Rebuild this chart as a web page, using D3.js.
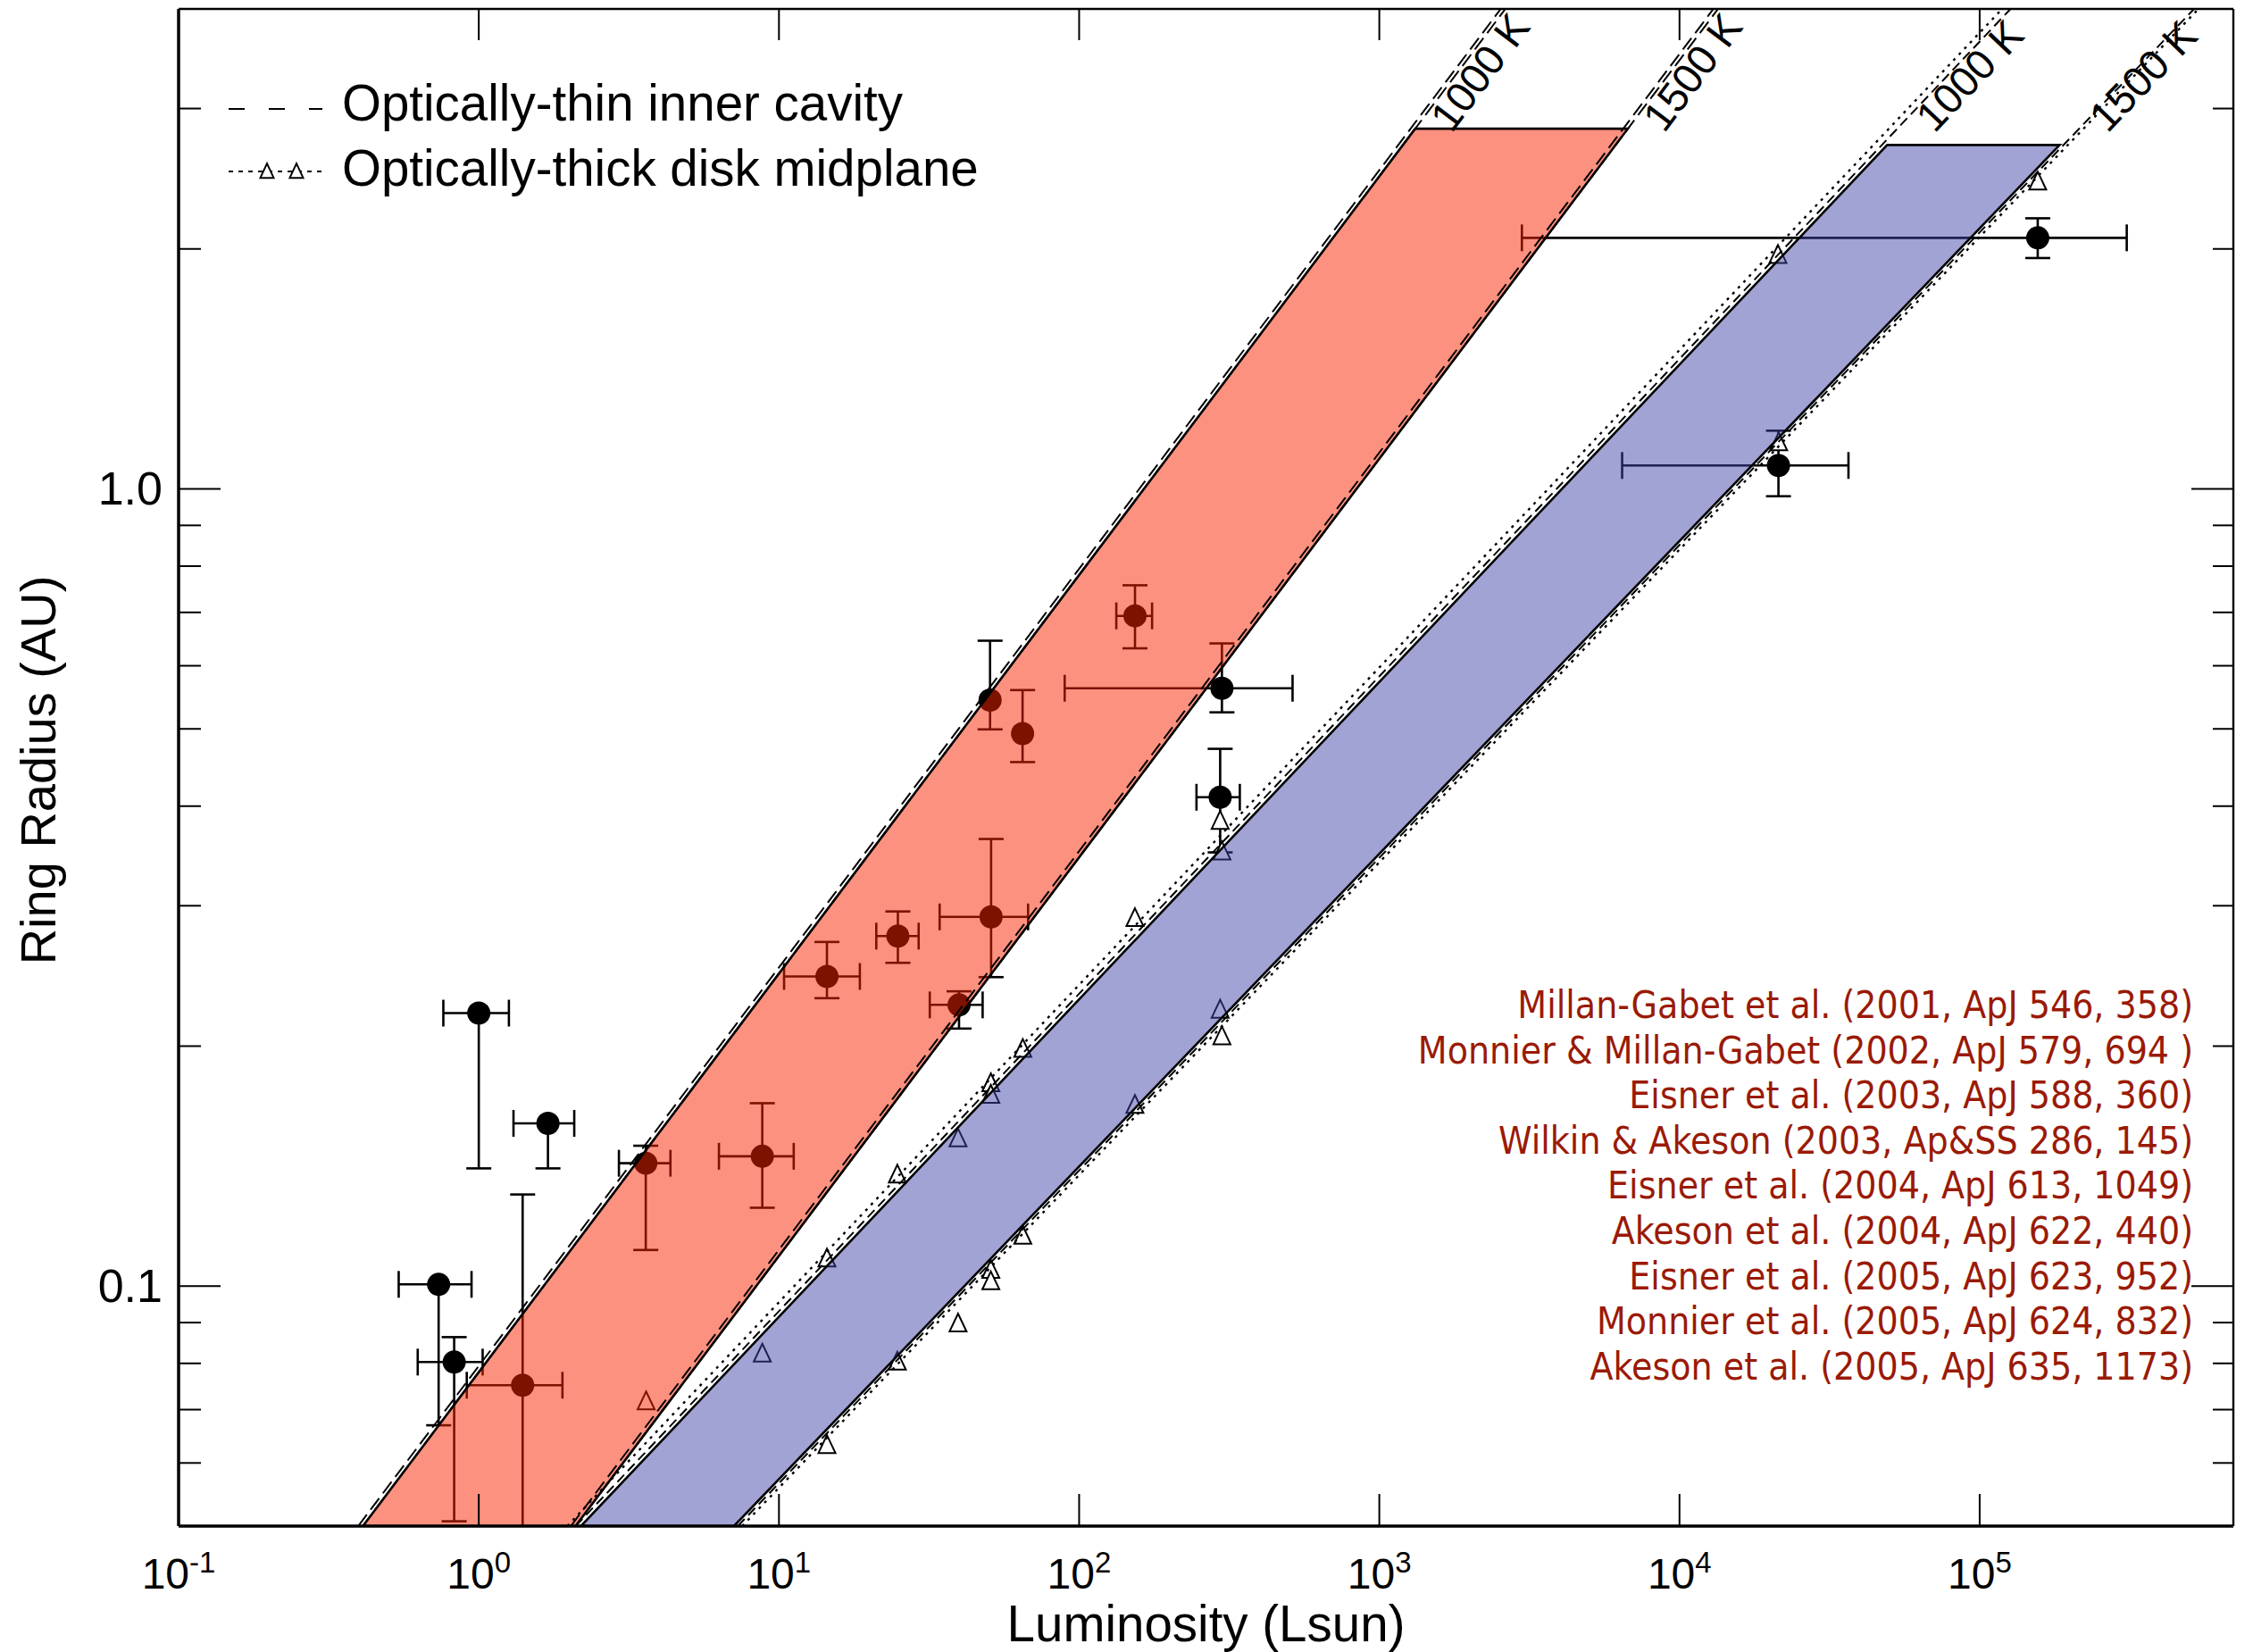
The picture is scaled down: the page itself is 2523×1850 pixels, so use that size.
<!DOCTYPE html>
<html><head><meta charset="utf-8">
<script src="https://cdn.jsdelivr.net/npm/d3@7"></script>
<style>body{margin:0;background:#fff;} svg{display:block;}</style>
</head><body>
<svg id="c" width="2523" height="1850"></svg>
<script>
// ---------------- data ----------------
const xTickValues = [0.1, 1, 10, 100, 1000, 10000, 100000];
const xTickExponents = ["-1", "0", "1", "2", "3", "4", "5"];
const yMajorValues = [0.1, 1.0];
const yMajorLabels = ["0.1", "1.0"];
const yMinorValues = [0.06, 0.07, 0.08, 0.09, 0.2, 0.3, 0.4, 0.5, 0.6, 0.7, 0.8, 0.9, 2, 3];

// measured ring radii (L in Lsun, R in AU) with error ranges
const ptL    = [1.00, 1.70, 3.60, 8.80, 0.735, 0.828, 1.40, 14.45, 39.8, 153.5, 50.5, 64.8, 299, 295, 50.9, 24.9, 156100, 21365];
const ptR    = [0.220, 0.160, 0.1426, 0.1455, 0.1005, 0.0803, 0.0751, 0.2446, 0.2253, 0.693, 0.5434, 0.4932, 0.5623, 0.4104, 0.2905, 0.2748, 2.065, 1.070];
const ptLlo  = [0.762, 1.305, 2.93, 6.31, 0.541, 0.626, 0.912, 10.4, 31.8, 133, 50.5, 64.8, 89.5, 246, 34.3, 21.1, 2985, 6440];
const ptLhi  = [1.26, 2.08, 4.35, 11.2, 0.946, 1.03, 1.90, 18.6, 47.7, 175, 50.5, 64.8, 514, 343, 67.6, 29.2, 309000, 36550];
const ptRlo  = [0.1405, 0.1405, 0.111, 0.1254, 0.0669, 0.0507, 0.04, 0.2297, 0.2104, 0.631, 0.4993, 0.4543, 0.5245, 0.35, 0.2441, 0.2544, 1.948, 0.979];
const ptRhi  = [0.220, 0.160, 0.150, 0.1696, 0.1005, 0.0863, 0.1303, 0.2702, 0.2343, 0.757, 0.645, 0.5593, 0.640, 0.472, 0.3638, 0.2951, 2.185, 1.183];

// optically-thick disk midplane model values (triangles)
const triL = [3.61, 8.80, 14.45, 14.45, 24.8, 24.8, 39.5, 39.5, 50.8, 50.8, 50.8, 50.8, 64.9, 64.9, 153.4, 153.4, 295, 299, 295, 299, 21280, 21400, 156100];
const triR = [0.0717, 0.0823, 0.1083, 0.0632, 0.138, 0.0804, 0.1532, 0.0898, 0.1797, 0.1738, 0.1048, 0.1014, 0.1984, 0.1157, 0.2895, 0.1688, 0.3834, 0.351, 0.2222, 0.2058, 1.966, 1.144, 2.43];

// model lines: luminosity where line crosses R=0.05 and R=4
const lineNames   = ["thin1000", "thin1500", "thick1000", "thick1500"];
const lineLabels  = ["1000 K", "1500 K", "1000 K", "1500 K"];
const lineLbottom = [0.411, 2.10, 2.19, 7.08];
const lineLtop    = [2630, 13443, 132000, 503000];
const bandTopR    = [2.83, 2.70];   // red (thin), blue (thick)

const references = [
  "Millan-Gabet et al. (2001, ApJ 546, 358)",
  "Monnier & Millan-Gabet (2002, ApJ 579, 694 )",
  "Eisner et al. (2003, ApJ 588, 360)",
  "Wilkin & Akeson (2003, Ap&SS 286, 145)",
  "Eisner et al. (2004, ApJ 613, 1049)",
  "Akeson et al. (2004, ApJ 622, 440)",
  "Eisner et al. (2005, ApJ 623, 952)",
  "Monnier et al. (2005, ApJ 624, 832)",
  "Akeson et al. (2005, ApJ 635, 1173)"
];
const legendLabels = ["Optically-thin inner cavity", "Optically-thick disk midplane"];

// ---------------- chart ----------------
const M = {left: 200, right: 2501, top: 10, bottom: 1709};
const x = d3.scaleLog().domain([0.1, 7e5]).range([M.left, M.right]);
const y = d3.scaleLog().domain([0.05, 4]).range([M.bottom, M.top]);
const R0 = 0.05, R1 = 4;

const svg = d3.select("#c");
svg.append("rect").attr("width", 2523).attr("height", 1850).attr("fill", "#fff");
svg.append("defs").append("clipPath").attr("id", "clip")
  .append("rect").attr("x", M.left).attr("y", M.top)
  .attr("width", M.right - M.left).attr("height", M.bottom - M.top);

const plot = svg.append("g").attr("clip-path", "url(#clip)");

// helper: luminosity on model line k (optionally scaled) at radius r
function lineL(k, r, f = 1) {
  const lb = Math.log10(lineLbottom[k] * f), lt = Math.log10(lineLtop[k] * f);
  const t = (Math.log10(r) - Math.log10(R0)) / (Math.log10(R1) - Math.log10(R0));
  return Math.pow(10, lb + t * (lt - lb));
}

// error bars & points
const eb = plot.append("g").attr("stroke", "#000").attr("stroke-width", 2.6).attr("fill", "none");
ptL.forEach((L, i) => {
  const cx = x(L), cy = y(ptR[i]);
  if (ptLhi[i] > ptLlo[i]) {
    eb.append("line").attr("x1", x(ptLlo[i])).attr("x2", x(ptLhi[i])).attr("y1", cy).attr("y2", cy);
    [ptLlo[i], ptLhi[i]].forEach(v => eb.append("line").attr("x1", x(v)).attr("x2", x(v)).attr("y1", cy - 15).attr("y2", cy + 15));
  }
  if (ptRhi[i] > ptRlo[i]) {
    eb.append("line").attr("x1", cx).attr("x2", cx).attr("y1", y(ptRlo[i])).attr("y2", y(ptRhi[i]));
    [ptRlo[i], ptRhi[i]].forEach(v => { if (v !== ptR[i]) eb.append("line").attr("x1", cx - 14).attr("x2", cx + 14).attr("y1", y(v)).attr("y2", y(v)); });
  }
});
plot.append("g").selectAll("circle").data(ptL).join("circle")
  .attr("cx", d => x(d)).attr("cy", (d, i) => y(ptR[i])).attr("r", 13).attr("fill", "#000");

// triangles
function triPath(cx, cy, w, h) {
  return `M${cx},${cy - h * 0.55}L${cx + w / 2},${cy + h * 0.45}L${cx - w / 2},${cy + h * 0.45}Z`;
}
plot.append("g").selectAll("path").data(triL).join("path")
  .attr("d", (d, i) => triPath(x(d), y(triR[i]), 19, 20))
  .attr("fill", "#fff").attr("stroke", "#000").attr("stroke-width", 2);

// bands (semi-transparent overlays)
function bandPts(k0, k1, top) {
  return [[x(lineL(k0, R0)), y(R0)], [x(lineL(k0, top)), y(top)], [x(lineL(k1, top)), y(top)], [x(lineL(k1, R0)), y(R0)]];
}
const bands = [
  {pts: bandPts(0, 1, bandTopR[0]), fill: "rgba(250,36,0,0.50)"},
  {pts: bandPts(2, 3, bandTopR[1]), fill: "rgba(64,68,168,0.49)"}
];
bands.forEach(b => {
  plot.append("polygon").attr("points", b.pts.map(p => p.join(",")).join(" ")).attr("fill", b.fill);
});

// model lines (dashed / dotted companions)
const lg = plot.append("g").attr("fill", "none").attr("stroke", "#000");
function drawLine(k, f, dash, sw) {
  lg.append("line").attr("x1", x(lineL(k, R0, f))).attr("y1", y(R0))
    .attr("x2", x(lineL(k, R1, f))).attr("y2", y(R1))
    .attr("stroke-dasharray", dash).attr("stroke-width", sw);
}
drawLine(0, 1.0, "16,7", 2); drawLine(0, 0.965, "16,7", 2);
drawLine(1, 1.0, "16,7", 2); drawLine(1, 0.965, "16,7", 2);
drawLine(2, 0.96, "11,6", 2); drawLine(2, 0.9, "3,6", 2.4);
drawLine(3, 1.03, "11,6", 2); drawLine(3, 1.065, "3,6", 2.4);

// band outlines
bands.forEach(b => {
  plot.append("polygon").attr("points", b.pts.map(p => p.join(",")).join(" "))
    .attr("fill", "none").attr("stroke", "#000").attr("stroke-width", 2.6).attr("stroke-linejoin", "miter");
});

const FONT = "Liberation Sans, Arial, Helvetica, sans-serif";

// line labels (rotated along each model line)
const labelOffset = [36, 36, 30, 30];
lineLabels.forEach((lab, k) => {
  const p0 = [x(lineL(k, R0)), y(R0)], p1 = [x(lineL(k, R1)), y(R1)];
  const phi = Math.atan2(p1[1] - p0[1], p1[0] - p0[0]);
  const d = labelOffset[k], oyTarget = 150;
  const ys = oyTarget - d * Math.cos(phi);
  const t = (ys - p0[1]) / (p1[1] - p0[1]);
  const px = p0[0] + t * (p1[0] - p0[0]);
  const ox = px - d * Math.sin(phi), oy = ys + d * Math.cos(phi);
  svg.append("text").attr("transform", `translate(${ox},${oy}) rotate(${phi * 180 / Math.PI})`)
    .attr("font-family", FONT).attr("font-size", 47)
    .attr("fill", "#000").text(lab);
});

// axes frame
const ax = svg.append("g").attr("stroke", "#000").attr("fill", "none");
ax.append("line").attr("x1", M.left).attr("x2", M.right).attr("y1", M.top).attr("y2", M.top).attr("stroke-width", 2.4);
ax.append("line").attr("x1", M.right).attr("x2", M.right).attr("y1", M.top).attr("y2", M.bottom).attr("stroke-width", 2.4);
ax.append("line").attr("x1", M.left).attr("x2", M.left).attr("y1", M.top).attr("y2", M.bottom).attr("stroke-width", 3.5);
ax.append("line").attr("x1", M.left).attr("x2", M.right).attr("y1", M.bottom).attr("y2", M.bottom).attr("stroke-width", 3.5);

// x ticks (bottom & top, inward)
xTickValues.forEach(v => {
  ax.append("line").attr("x1", x(v)).attr("x2", x(v)).attr("y1", M.bottom).attr("y2", M.bottom - 36).attr("stroke-width", 2);
  ax.append("line").attr("x1", x(v)).attr("x2", x(v)).attr("y1", M.top).attr("y2", M.top + 35).attr("stroke-width", 2);
});
// y ticks (left & right)
yMajorValues.forEach(v => {
  ax.append("line").attr("x1", M.left).attr("x2", M.left + 47).attr("y1", y(v)).attr("y2", y(v)).attr("stroke-width", 2);
  ax.append("line").attr("x1", M.right).attr("x2", M.right - 47).attr("y1", y(v)).attr("y2", y(v)).attr("stroke-width", 2);
});
yMinorValues.forEach(v => {
  ax.append("line").attr("x1", M.left).attr("x2", M.left + 25).attr("y1", y(v)).attr("y2", y(v)).attr("stroke-width", 2);
  ax.append("line").attr("x1", M.right).attr("x2", M.right - 23).attr("y1", y(v)).attr("y2", y(v)).attr("stroke-width", 2);
});

// x tick labels 10^n
xTickValues.forEach((v, i) => {
  const t = svg.append("text").attr("x", x(v)).attr("y", 1779).attr("text-anchor", "middle")
    .attr("font-family", FONT).attr("font-size", 48).attr("fill", "#000");
  t.append("tspan").text("10");
  t.append("tspan").attr("dy", -18).attr("font-size", 33).text(xTickExponents[i]);
});
// y tick labels
yMajorValues.forEach((v, i) => {
  svg.append("text").attr("x", 182).attr("y", y(v) + 18).attr("text-anchor", "end")
    .attr("font-family", FONT).attr("font-size", 52).attr("fill", "#000").text(yMajorLabels[i]);
});
// axis titles
svg.append("text").attr("x", (M.left + M.right) / 2).attr("y", 1838).attr("text-anchor", "middle")
  .attr("font-family", FONT).attr("font-size", 56.5).attr("fill", "#000").text("Luminosity (Lsun)");
svg.append("text").attr("transform", `translate(62,${(M.top + M.bottom) / 2 + 3}) rotate(-90)`).attr("text-anchor", "middle")
  .attr("font-family", FONT).attr("font-size", 56).attr("fill", "#000").text("Ring Radius (AU)");

// legend
const leg = svg.append("g");
leg.append("line").attr("x1", 256).attr("x2", 361).attr("y1", 122).attr("y2", 122)
  .attr("stroke", "#000").attr("stroke-width", 2).attr("stroke-dasharray", "18,27");
leg.append("line").attr("x1", 256).attr("x2", 361).attr("y1", 192).attr("y2", 192)
  .attr("stroke", "#000").attr("stroke-width", 2).attr("stroke-dasharray", "5,6");
[299, 332].forEach(cx => leg.append("path").attr("d", triPath(cx, 192, 15, 16))
  .attr("fill", "#fff").attr("stroke", "#000").attr("stroke-width", 2));
legendLabels.forEach((l, i) => {
  leg.append("text").attr("x", 383).attr("y", 135 + i * 73).attr("font-family", FONT)
    .attr("font-size", 56.5).attr("fill", "#000").text(l);
});

// references
references.forEach((r, i) => {
  svg.append("text").attr("x", 2456).attr("y", 1140 + i * 50.6).attr("text-anchor", "end")
    .attr("font-family", "DejaVu Sans Condensed, DejaVu Sans, sans-serif").attr("font-stretch", "condensed")
    .attr("font-size", 42.3).attr("fill", "#9a1a06").text(r);
});
</script></body></html>
